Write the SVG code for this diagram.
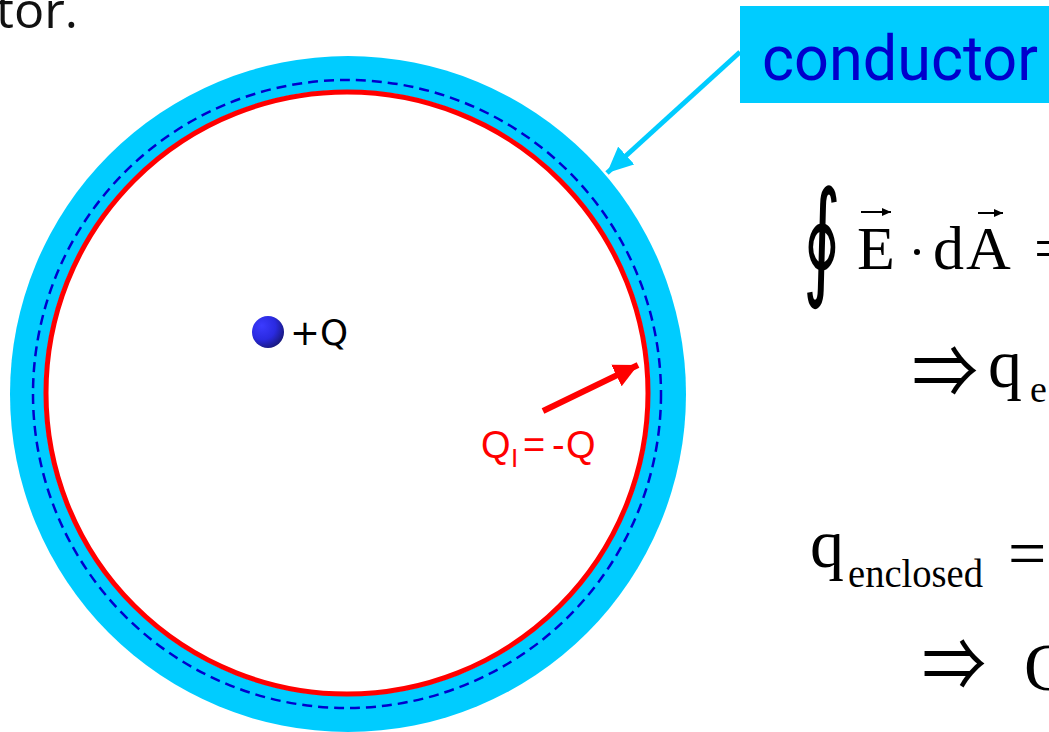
<svg xmlns="http://www.w3.org/2000/svg" width="1049" height="732" viewBox="0 0 1049 732">
<defs>
<radialGradient id="ball" cx="0.35" cy="0.35" r="0.75" fx="0.3" fy="0.3">
<stop offset="0" stop-color="#3b3bff"/>
<stop offset="0.55" stop-color="#2a2ae0"/>
<stop offset="1" stop-color="#16166e"/>
</radialGradient>
<marker id="cyanHead" markerUnits="userSpaceOnUse" markerWidth="28" markerHeight="24" refX="26" refY="12" orient="auto">
<path d="M0,0 L26,12 L0,24 Z" fill="#00ccff"/>
</marker>
<marker id="redHead" markerUnits="userSpaceOnUse" markerWidth="26" markerHeight="24" refX="24" refY="12" orient="auto">
<path d="M0,0 L24,12 L0,24 Z" fill="#ff0000"/>
</marker>
<marker id="vecHead" markerUnits="userSpaceOnUse" markerWidth="10" markerHeight="8" refX="9" refY="4" orient="auto">
<path d="M0,0 L9,4 L0,8 Z" fill="#000"/>
</marker>
</defs>
<style>
.serif{font-family:"Liberation Serif","Times New Roman",serif;fill:#000}
.sans{font-family:"Liberation Sans",Arial,sans-serif}
.arrow{font-family:"Noto Sans CJK SC","DejaVu Sans",sans-serif;fill:#000}
</style>
<rect width="1049" height="732" fill="#fff"/>

<text x="-4" y="28" font-family="Open Sans, sans-serif" font-size="50" fill="#111" textLength="82" lengthAdjust="spacingAndGlyphs">tor.</text>

<g id="conductor-shell">
<circle cx="348" cy="394" r="338" fill="#00ccff"/>
<circle cx="347" cy="394" r="314" fill="none" stroke="#0000cc" stroke-width="2.5" stroke-dasharray="10 6"/>
<circle cx="347" cy="393" r="303" fill="#fff"/>
<circle cx="347" cy="393" r="301" fill="none" stroke="#ff0000" stroke-width="5"/>
</g>

<g id="charge">
<circle cx="268" cy="332" r="16" fill="url(#ball)"/>
<text x="290" y="345" font-family="DejaVu Sans, sans-serif" font-size="35" fill="#000" textLength="58" lengthAdjust="spacingAndGlyphs">+Q</text>
</g>

<g id="conductor-label">
<rect x="740" y="6" width="312" height="97" fill="#00ccff"/>
<text x="762" y="80" font-family="Roboto, sans-serif" font-size="63" fill="#0000cc" textLength="276" lengthAdjust="spacingAndGlyphs">conductor</text>
</g>

<g id="inner-charge-label">
<text x="481" y="458" class="sans" font-size="38" fill="#ff0000">Q</text>
<text x="511" y="467" class="sans" font-size="26" fill="#ff0000">I</text>
<text y="458" class="sans" font-size="38" fill="#ff0000"><tspan x="523">=</tspan><tspan x="552">-</tspan><tspan x="566">Q</tspan></text>
</g>

<g id="connectors">
<line x1="740" y1="52" x2="607" y2="173" stroke="#00ccff" stroke-width="5" marker-end="url(#cyanHead)"/>
<line x1="543" y1="411" x2="638" y2="365" stroke="#ff0000" stroke-width="6" marker-end="url(#redHead)"/>
</g>

<g id="equations">
<text x="803" y="282" font-family="DejaVu Serif, serif" font-size="128" fill="#000" textLength="38" lengthAdjust="spacingAndGlyphs">∮</text>
<text x="857" y="269" class="serif" font-size="62">E</text>
<line x1="861" y1="212" x2="891" y2="212" stroke="#000" stroke-width="2" marker-end="url(#vecHead)"/>
<circle cx="917" cy="252" r="3" fill="#000"/>
<text x="933" y="269" class="serif" font-size="62">d</text>
<text x="966" y="269" class="serif" font-size="62">A</text>
<line x1="978" y1="213" x2="1003" y2="213" stroke="#000" stroke-width="2" marker-end="url(#vecHead)"/>
<text x="1034" y="269" class="serif" font-size="62">=</text>

<text x="912" y="397" class="arrow" font-size="72" textLength="66" lengthAdjust="spacingAndGlyphs">⇒</text>
<text x="988" y="387" class="serif" font-size="68">q</text>
<text x="1030" y="402" class="serif" font-size="38">e</text>

<text x="810" y="567" class="serif" font-size="68">q</text>
<text x="848" y="587" class="serif" font-size="39" textLength="135" lengthAdjust="spacingAndGlyphs">enclosed</text>
<text x="1008" y="576" class="serif" font-size="68">=</text>

<text x="922" y="690" class="arrow" font-size="72" textLength="64" lengthAdjust="spacingAndGlyphs">⇒</text>
<text x="1024" y="690" class="serif" font-size="68">Q</text>
</g>
</svg>
